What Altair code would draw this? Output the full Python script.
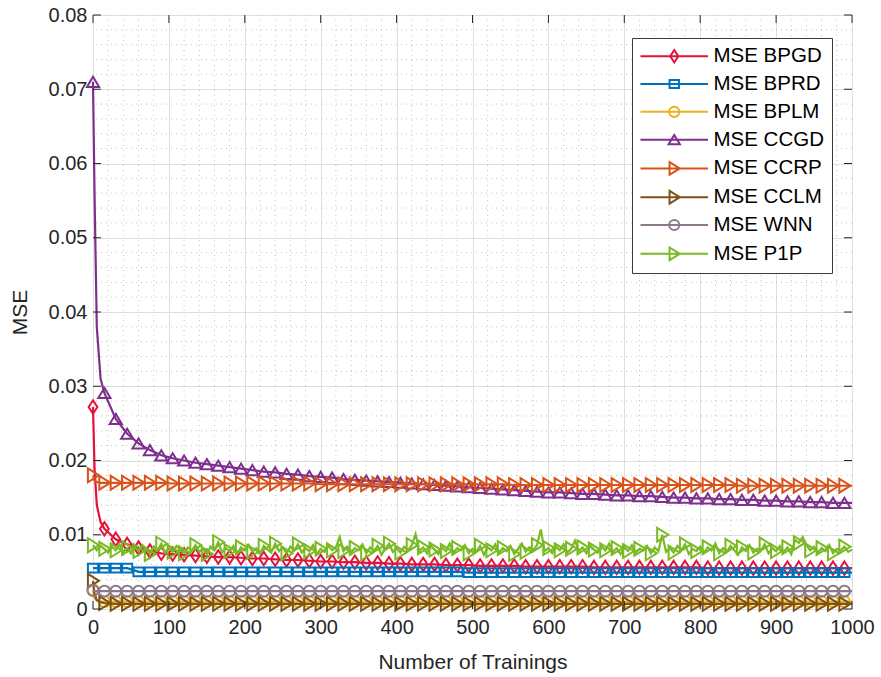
import altair as alt
import pandas as pd

FONT = "Liberation Sans"

# ---------------- data ----------------
NAMES = ["MSE BPGD", "MSE BPRD", "MSE BPLM", "MSE CCGD", "MSE CCRP", "MSE CCLM", "MSE WNN", "MSE P1P"]
COLORS = ["#E3123C", "#0072BD", "#EDB120", "#7E2F8E", "#D95319", "#7E5216", "#8C7A8C", "#79BA22"]

X_LINE = [0, 2, 5, 10, 15, 30, 45, 60, 75, 90,
          105, 120, 135, 150, 165, 180, 195, 210, 225, 240,
          255, 270, 285, 300, 315, 330, 345, 360, 375, 390,
          405, 420, 435, 450, 465, 480, 495, 510, 525, 540,
          555, 570, 585, 600, 615, 630, 645, 660, 675, 690,
          705, 720, 735, 750, 765, 780, 795, 810, 825, 840,
          855, 870, 885, 900, 915, 930, 945, 960, 975, 990, 1000]

BPGD = [0.0272, 0.0190, 0.0140, 0.0117, 0.0108, 0.0094, 0.0087, 0.0082, 0.0078, 0.0075,
        0.0074, 0.0073, 0.0072, 0.0071, 0.0070, 0.0070, 0.0069, 0.0068, 0.0068, 0.0067,
        0.0066, 0.0066, 0.0065, 0.0064, 0.0064, 0.0063, 0.0063, 0.0062, 0.0062, 0.0061,
        0.0061, 0.0060, 0.0060, 0.0060, 0.0059, 0.0059, 0.0059, 0.0058, 0.0058, 0.0058,
        0.0058, 0.0057, 0.0057, 0.0057, 0.0057, 0.0057, 0.0057, 0.0056, 0.0056, 0.0056,
        0.0056, 0.0056, 0.0056, 0.0056, 0.0056, 0.0056, 0.0056, 0.0055, 0.0055, 0.0055,
        0.0055, 0.0055, 0.0055, 0.0055, 0.0055, 0.0055, 0.0055, 0.0055, 0.0055, 0.0055, 0.0055]

BPRD = [0.0055, 0.0055, 0.0055, 0.0055, 0.0055, 0.0055, 0.0055, 0.0050, 0.0050, 0.0050,
        0.0050, 0.0050, 0.0050, 0.0050, 0.0050, 0.0050, 0.0050, 0.0050, 0.0050, 0.0050,
        0.0050, 0.0050, 0.0050, 0.0050, 0.0050, 0.0050, 0.0050, 0.0050, 0.0050, 0.0050,
        0.0050, 0.0050, 0.0050, 0.0050, 0.0050, 0.0050, 0.0049, 0.0049, 0.0049, 0.0049,
        0.0049, 0.0049, 0.0049, 0.0049, 0.0049, 0.0049, 0.0049, 0.0049, 0.0049, 0.0049,
        0.0049, 0.0049, 0.0049, 0.0049, 0.0049, 0.0049, 0.0049, 0.0049, 0.0049, 0.0049,
        0.0049, 0.0049, 0.0049, 0.0049, 0.0049, 0.0049, 0.0049, 0.0049, 0.0049, 0.0049, 0.0049]

BPLM = [0.0026, 0.0015, 0.0011, 0.0010, 0.0010, 0.0010, 0.0010, 0.0010, 0.0010, 0.0010,
        0.0010, 0.0010, 0.0010, 0.0010, 0.0010, 0.0010, 0.0010, 0.0010, 0.0010, 0.0010,
        0.0010, 0.0010, 0.0010, 0.0010, 0.0010, 0.0010, 0.0010, 0.0010, 0.0010, 0.0010,
        0.0010, 0.0010, 0.0010, 0.0010, 0.0010, 0.0010, 0.0010, 0.0010, 0.0010, 0.0010,
        0.0010, 0.0010, 0.0010, 0.0010, 0.0010, 0.0010, 0.0010, 0.0010, 0.0010, 0.0010,
        0.0010, 0.0010, 0.0010, 0.0010, 0.0010, 0.0010, 0.0010, 0.0010, 0.0010, 0.0010,
        0.0010, 0.0010, 0.0010, 0.0010, 0.0010, 0.0010, 0.0010, 0.0010, 0.0010, 0.0010, 0.0010]

CCGD = [0.0710, 0.0560, 0.0380, 0.0310, 0.0291, 0.0256, 0.0236, 0.0223, 0.0214, 0.0207,
        0.0203, 0.0200, 0.0197, 0.0195, 0.0193, 0.0191, 0.0189, 0.0187, 0.0185, 0.0184,
        0.0182, 0.0181, 0.0179, 0.0178, 0.0177, 0.0175, 0.0174, 0.0173, 0.0172, 0.0171,
        0.0170, 0.0169, 0.0168, 0.0167, 0.0166, 0.0165, 0.0164, 0.0163, 0.0162, 0.0161,
        0.0160, 0.0159, 0.0158, 0.0157, 0.0157, 0.0156, 0.0155, 0.0155, 0.0154, 0.0153,
        0.0153, 0.0152, 0.0152, 0.0151, 0.0150, 0.0150, 0.0149, 0.0149, 0.0148, 0.0148,
        0.0147, 0.0147, 0.0146, 0.0146, 0.0145, 0.0145, 0.0144, 0.0144, 0.0143, 0.0143, 0.0143]

CCRP = [0.0180, 0.0173, 0.0171, 0.0170, 0.0170, 0.0170, 0.0170, 0.0170, 0.0170, 0.0170,
        0.0169, 0.0169, 0.0169, 0.0169, 0.0169, 0.0169, 0.0169, 0.0169, 0.0169, 0.0169,
        0.0169, 0.0169, 0.0169, 0.0168, 0.0168, 0.0168, 0.0168, 0.0168, 0.0168, 0.0168,
        0.0168, 0.0168, 0.0168, 0.0168, 0.0168, 0.0168, 0.0168, 0.0168, 0.0168, 0.0168,
        0.0167, 0.0167, 0.0167, 0.0167, 0.0167, 0.0167, 0.0167, 0.0167, 0.0167, 0.0167,
        0.0167, 0.0167, 0.0167, 0.0167, 0.0167, 0.0167, 0.0167, 0.0167, 0.0167, 0.0167,
        0.0166, 0.0166, 0.0166, 0.0166, 0.0166, 0.0166, 0.0166, 0.0166, 0.0166, 0.0166, 0.0166]

CCLM = [0.0038, 0.0020, 0.0012, 0.0009, 0.0008, 0.0007, 0.0007, 0.0007, 0.0007, 0.0007,
        0.0007, 0.0007, 0.0007, 0.0007, 0.0007, 0.0007, 0.0007, 0.0007, 0.0007, 0.0007,
        0.0007, 0.0007, 0.0007, 0.0007, 0.0007, 0.0007, 0.0007, 0.0007, 0.0007, 0.0007,
        0.0007, 0.0007, 0.0007, 0.0007, 0.0007, 0.0007, 0.0007, 0.0007, 0.0007, 0.0007,
        0.0007, 0.0007, 0.0007, 0.0007, 0.0007, 0.0007, 0.0007, 0.0007, 0.0007, 0.0007,
        0.0007, 0.0007, 0.0007, 0.0007, 0.0007, 0.0007, 0.0007, 0.0007, 0.0007, 0.0007,
        0.0007, 0.0007, 0.0007, 0.0007, 0.0007, 0.0007, 0.0007, 0.0007, 0.0007, 0.0007, 0.0007]

WNN = [0.0025, 0.0024, 0.0024, 0.0024, 0.0024, 0.0024, 0.0024, 0.0024, 0.0024, 0.0024,
       0.0024, 0.0024, 0.0024, 0.0024, 0.0024, 0.0024, 0.0024, 0.0024, 0.0024, 0.0024,
       0.0024, 0.0024, 0.0024, 0.0024, 0.0024, 0.0024, 0.0024, 0.0024, 0.0024, 0.0024,
       0.0024, 0.0024, 0.0024, 0.0024, 0.0024, 0.0024, 0.0024, 0.0024, 0.0024, 0.0024,
       0.0024, 0.0024, 0.0024, 0.0024, 0.0024, 0.0024, 0.0024, 0.0024, 0.0024, 0.0024,
       0.0024, 0.0024, 0.0024, 0.0024, 0.0024, 0.0024, 0.0024, 0.0024, 0.0024, 0.0024,
       0.0024, 0.0024, 0.0024, 0.0024, 0.0024, 0.0024, 0.0024, 0.0024, 0.0024, 0.0024, 0.0024]

# P1P sampled every 5 trainings (0 ... 1000)
P1P_X = list(range(0, 1001, 5))
P1P = [0.0086,
       0.0079, 0.0085, 0.0081, 0.0076, 0.0084, 0.0079, 0.0087, 0.0077, 0.0082, 0.0075,
       0.0083, 0.0078, 0.0086, 0.0080, 0.0074, 0.0084, 0.0079, 0.0088, 0.0076, 0.0082,
       0.0077, 0.0085, 0.0080, 0.0075, 0.0083, 0.0078, 0.0086, 0.0077, 0.0081, 0.0074,
       0.0084, 0.0079, 0.0090, 0.0076, 0.0082, 0.0078, 0.0085, 0.0075, 0.0083, 0.0079,
       0.0086, 0.0077, 0.0082, 0.0074, 0.0085, 0.0080, 0.0076, 0.0088, 0.0078, 0.0083,
       0.0075, 0.0084, 0.0079, 0.0087, 0.0076, 0.0082, 0.0078, 0.0086, 0.0074, 0.0081,
       0.0077, 0.0085, 0.0079, 0.0083, 0.0097, 0.0078, 0.0084, 0.0076, 0.0082, 0.0079,
       0.0087, 0.0075, 0.0083, 0.0078, 0.0085, 0.0073, 0.0081, 0.0088, 0.0077, 0.0082,
       0.0076, 0.0084, 0.0079, 0.0086, 0.0101, 0.0078, 0.0083, 0.0075, 0.0085, 0.0080,
       0.0074, 0.0083, 0.0078, 0.0088, 0.0076, 0.0082, 0.0079, 0.0086, 0.0075, 0.0081,
       0.0077, 0.0085, 0.0073, 0.0083, 0.0079, 0.0087, 0.0076, 0.0082, 0.0078, 0.0085,
       0.0074, 0.0081, 0.0088, 0.0077, 0.0083, 0.0079, 0.0086, 0.0107, 0.0078, 0.0082,
       0.0075, 0.0084, 0.0079, 0.0087, 0.0076, 0.0081, 0.0092, 0.0078, 0.0083, 0.0075,
       0.0085, 0.0080, 0.0076, 0.0084, 0.0079, 0.0088, 0.0077, 0.0082, 0.0074, 0.0083,
       0.0078, 0.0086, 0.0076, 0.0081, 0.0079, 0.0085, 0.0075, 0.0083, 0.0078, 0.0100,
       0.0077, 0.0082, 0.0076, 0.0085, 0.0079, 0.0087, 0.0074, 0.0081, 0.0078, 0.0084,
       0.0076, 0.0083, 0.0079, 0.0088, 0.0075, 0.0082, 0.0077, 0.0085, 0.0079, 0.0073,
       0.0083, 0.0078, 0.0086, 0.0076, 0.0081, 0.0079, 0.0087, 0.0075, 0.0082, 0.0078,
       0.0085, 0.0077, 0.0083, 0.0074, 0.0093, 0.0089, 0.0097, 0.0086, 0.0079, 0.0084,
       0.0076, 0.0082, 0.0078, 0.0086, 0.0075, 0.0081, 0.0079, 0.0084, 0.0077, 0.0080]

X_TICKS = [0, 100, 200, 300, 400, 500, 600, 700, 800, 900, 1000]
Y_TICKS = [0, 0.01, 0.02, 0.03, 0.04, 0.05, 0.06, 0.07, 0.08]
MINOR_X = [20, 40, 60, 80, 120, 140, 160, 180, 220, 240, 260, 280, 320, 340, 360, 380,
           420, 440, 460, 480, 520, 540, 560, 580, 620, 640, 660, 680, 720, 740, 760, 780,
           820, 840, 860, 880, 920, 940, 960, 980]
MINOR_Y = [0.002, 0.004, 0.006, 0.008, 0.012, 0.014, 0.016, 0.018, 0.022, 0.024, 0.026, 0.028,
           0.032, 0.034, 0.036, 0.038, 0.042, 0.044, 0.046, 0.048, 0.052, 0.054, 0.056, 0.058,
           0.062, 0.064, 0.066, 0.068, 0.072, 0.074, 0.076, 0.078]

# marker outlines (unit space, scaled by Vega)
M_DIAMOND = "M0,-0.95L0.62,0L0,0.95L-0.62,0Z"
M_SQUARE = "M-0.72,-0.62L0.72,-0.62L0.72,0.62L-0.72,0.62Z"
M_CIRCLE = "M0.78,0A0.78,0.78,0,1,1,-0.78,0A0.78,0.78,0,1,1,0.78,0Z"
M_TRI_UP = "M0,-0.72L0.86,0.72L-0.86,0.72Z"
M_TRI_RIGHT = "M-0.72,-0.98L0.85,0L-0.72,0.98Z"
MARKERS = [M_DIAMOND, M_SQUARE, M_CIRCLE, M_TRI_UP, M_TRI_RIGHT, M_TRI_RIGHT, M_CIRCLE, M_TRI_RIGHT]
LEGEND_SHAPES = ["M-5.2,0L5.2,0" + m for m in MARKERS]

SERIES = {"MSE BPGD": (X_LINE, BPGD), "MSE BPRD": (X_LINE, BPRD), "MSE BPLM": (X_LINE, BPLM),
          "MSE CCGD": (X_LINE, CCGD), "MSE CCRP": (X_LINE, CCRP), "MSE CCLM": (X_LINE, CCLM),
          "MSE WNN": (X_LINE, WNN), "MSE P1P": (P1P_X, P1P)}

# ---------------- chart ----------------
W, H = 759, 594
XT, YT = "Number of Trainings", "MSE"
xscale = alt.Scale(domain=[0, 1000], nice=False, zero=False)
yscale = alt.Scale(domain=[0, 0.08], nice=False, zero=False)
AX = "#262626"

x_axis = alt.Axis(values=X_TICKS, format="d", grid=True, gridColor="#dedede", gridWidth=1,
                  ticks=False, domain=False, labelFontSize=20, labelColor=AX, labelFont=FONT,
                  labelPadding=8, labelFlush=False, titleFontSize=21, titleFont=FONT,
                  titleFontWeight="normal", titleColor=AX, titlePadding=14)
y_axis = alt.Axis(values=Y_TICKS, grid=True, gridColor="#dedede", gridWidth=1,
                  labelExpr="datum.value == 0 ? '0' : format(datum.value, '.2f')",
                  ticks=False, domain=False, labelFontSize=20, labelColor=AX, labelFont=FONT,
                  labelPadding=6, labelFlush=False, titleFontSize=21, titleFont=FONT,
                  titleFontWeight="normal", titleColor=AX, titlePadding=18)


def X(field):
    return alt.X(field, scale=xscale, axis=x_axis, title=XT)


def Y(field):
    return alt.Y(field, scale=yscale, axis=y_axis, title=YT)


layers = []
minor_x = alt.Chart(pd.DataFrame({"v": MINOR_X})).mark_rule(
    color="#c4c4c4", strokeDash=[1, 4], strokeWidth=1).encode(x=X("v:Q"))
minor_y = alt.Chart(pd.DataFrame({"v": MINOR_Y})).mark_rule(
    color="#c4c4c4", strokeDash=[1, 4], strokeWidth=1).encode(y=Y("v:Q"))
layers += [minor_x, minor_y]

for name, color, marker in zip(NAMES, COLORS, MARKERS):
    xs, ys = SERIES[name]
    df = pd.DataFrame({"x": xs, "y": ys})
    dfm = df[(df["x"] % 15 == 0) & (df["x"] <= 990)]
    line = alt.Chart(df).mark_line(color=color, strokeWidth=2.2).encode(x=X("x:Q"), y=Y("y:Q"))
    pts = alt.Chart(dfm).mark_point(shape=marker, size=200, filled=False, color=color,
                                    strokeWidth=2, opacity=1).encode(x=X("x:Q"), y=Y("y:Q"))
    layers += [line, pts]

# inward ticks on the four sides of the box
tx = pd.DataFrame({"v": X_TICKS})
ty = pd.DataFrame({"v": Y_TICKS})
tick_l = alt.Chart(ty).mark_rule(color=AX).encode(y=Y("v:Q"), x=alt.value(0), x2=alt.value(8))
tick_r = alt.Chart(ty).mark_rule(color=AX).encode(y=Y("v:Q"), x=alt.value(W - 8), x2=alt.value(W))
tick_b = alt.Chart(tx).mark_rule(color=AX).encode(x=X("v:Q"), y=alt.value(H - 8), y2=alt.value(H))
tick_t = alt.Chart(tx).mark_rule(color=AX).encode(x=X("v:Q"), y=alt.value(0), y2=alt.value(8))
layers += [tick_l, tick_r, tick_b, tick_t]

leg_props = dict(title=None, orient="none", legendX=539, legendY=23, direction="vertical",
                 fillColor="white", strokeColor="#3a3a3a", padding=8, rowPadding=6.8,
                 symbolSize=169, symbolStrokeWidth=2, symbolOffset=24, labelOffset=29,
                 labelFont=FONT, labelFontSize=20.5, labelColor="black", labelLimit=0,
                 cornerRadius=0)
legend_layer = alt.Chart(pd.DataFrame({"series": NAMES, "x": 0, "y": 0})).transform_filter(
    "false").mark_point(filled=False, size=169, strokeWidth=2, opacity=1).encode(
    x=X("x:Q"), y=Y("y:Q"),
    color=alt.Color("series:N", scale=alt.Scale(domain=NAMES, range=COLORS),
                    legend=alt.Legend(**leg_props)),
    shape=alt.Shape("series:N", scale=alt.Scale(domain=NAMES, range=LEGEND_SHAPES),
                    legend=alt.Legend(**leg_props)))
layers.append(legend_layer)

chart = alt.layer(*layers).properties(
    width=W, height=H,
    padding={"left": 93, "top": 15, "right": 29, "bottom": 68},
    autosize=alt.AutoSizeParams(type="none"),
    background="white",
).configure_view(stroke=AX, strokeWidth=1.2).configure(font=FONT)

chart.save("out.html", embed_options={"renderer": "svg", "actions": False})
